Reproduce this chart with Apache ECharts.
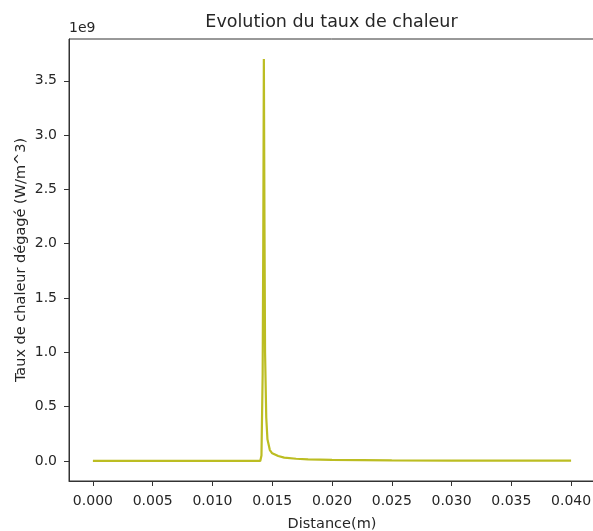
<!DOCTYPE html>
<html lang="fr">
<head>
	<meta charset="UTF-8">
	<title>Evolution du taux de chaleur</title>
	<script src="https://cdn.jsdelivr.net/npm/echarts@6/dist/echarts.min.js"></script>
	<style>
		html, body { margin: 0; padding: 0; background: #fff; }
	</style>
</head>
<body>
	<div id="main" style="width: 593px; height: 531px;"></div>
	<script>
		// distance (m) et taux de chaleur (en 1e9 W/m^3)
		var distance = [0, 0.005, 0.010, 0.0138, 0.0140, 0.0141, 0.0142, 0.01425, 0.0143,
			0.01435, 0.0144, 0.0145, 0.0146, 0.0148, 0.0150, 0.0155, 0.0160, 0.0170,
			0.0180, 0.0200, 0.0250, 0.0300, 0.0350, 0.0400]
		var taux = [0, 0, 0, 0, 0, 0.05, 0.8, 2.0, 3.7,
			2.2, 1.0, 0.4, 0.2, 0.1, 0.07, 0.045, 0.03, 0.02,
			0.014, 0.009, 0.005, 0.003, 0.002, 0.002]
		var xTicks = [0, 0.005, 0.010, 0.015, 0.020, 0.025, 0.030, 0.035, 0.040]
		var yTicks = [0, 0.5, 1.0, 1.5, 2.0, 2.5, 3.0, 3.5]

		var points = []
		for (var i = 0; i < distance.length; i++) {
			points.push([distance[i], taux[i]])
		}

		var font = 'DejaVu Sans'
		var textColor = '#262626'
		var frameColor = '#333'

		var myChart = echarts.init(document.getElementById('main'))
		var option = {
			animation: false,
			backgroundColor: '#fff',
			title: {
				text: 'Evolution du taux de chaleur',
				left: 331.5,
				top: 13,
				padding: 0,
				textAlign: 'center',
				textStyle: {
					fontFamily: font,
					fontSize: 17.5,
					fontWeight: 'normal',
					color: textColor
				}
			},
			graphic: [{
				type: 'text',
				left: 69,
				top: 21,
				style: {
					text: '1e9',
					font: '14px "DejaVu Sans"',
					fill: textColor
				}
			}],
			grid: {
				left: 69,
				top: 39,
				width: 526,
				height: 442,
				outerBoundsMode: 'none',
				containLabel: false,
				show: true,
				borderColor: frameColor,
				borderWidth: 1,
				backgroundColor: 'transparent'
			},
			xAxis: {
				type: 'value',
				min: -0.002,
				max: 0.042,
				name: 'Distance(m)',
				nameLocation: 'middle',
				nameGap: 36,
				nameMoveOverlap: false,
				nameTextStyle: { fontFamily: font, fontSize: 14.5, color: textColor },
				axisLine: { show: true, onZero: false, lineStyle: { color: frameColor, width: 1 } },
				axisTick: {
					show: true,
					length: 5,
					customValues: xTicks,
					lineStyle: { color: frameColor }
				},
				axisLabel: {
					customValues: xTicks,
					margin: 13,
					fontFamily: font,
					fontSize: 14,
					color: textColor,
					formatter: function (v) { return v.toFixed(3) }
				},
				splitLine: { show: false }
			},
			yAxis: {
				type: 'value',
				min: -0.185,
				max: 3.885,
				name: 'Taux de chaleur dégagé (W/m^3)',
				nameLocation: 'middle',
				nameRotate: 90,
				nameGap: 40,
				nameMoveOverlap: false,
				nameTextStyle: { fontFamily: font, fontSize: 14.5, color: textColor },
				axisLine: { show: true, onZero: false, lineStyle: { color: frameColor, width: 1 } },
				axisTick: {
					show: true,
					length: 5,
					customValues: yTicks,
					lineStyle: { color: frameColor }
				},
				axisLabel: {
					customValues: yTicks,
					margin: 12,
					fontFamily: font,
					fontSize: 14,
					color: textColor,
					formatter: function (v) { return v.toFixed(1) }
				},
				splitLine: { show: false }
			},
			series: [{
				type: 'line',
				data: points,
				showSymbol: false,
				smooth: false,
				lineStyle: { color: '#bcbd22', width: 2.2 },
				itemStyle: { color: '#bcbd22' }
			}]
		}
		myChart.setOption(option)
	</script>
</body>
</html>
